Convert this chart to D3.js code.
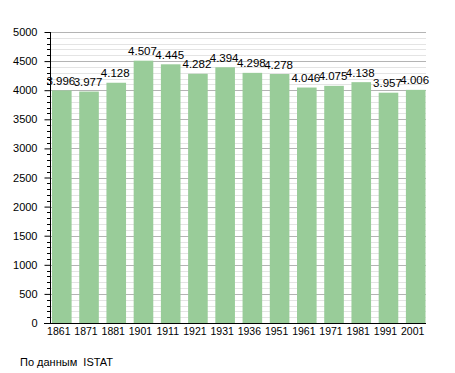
<!DOCTYPE html>
<html>
<head>
<meta charset="utf-8">
<script src="https://cdn.jsdelivr.net/npm/d3@7"></script>
<style>
  body { margin: 0; background: #fff; }
  text { font-family: "Liberation Sans", Arial, sans-serif; }
</style>
</head>
<body>
<div id="wrap"></div>
<script>
var years = ["1861","1871","1881","1901","1911","1921","1931","1936","1951","1961","1971","1981","1991","2001"];
var population = [3996,3977,4128,4507,4445,4282,4394,4298,4278,4046,4075,4138,3957,4006];
var yTicks = [0,500,1000,1500,2000,2500,3000,3500,4000,4500,5000];
var sourceText = "По данным  ISTAT";

var bar_color = "#99cc99";
var text_size = "11px";

var svg = d3.select('#wrap')
  .append('svg')
  .attr("width", 455)
  .attr("height", 373)

var x = d3.scaleBand()
  .domain(years)
  .range([52, 425.5])
  .paddingInner(0.28)
  .paddingOuter(0)

var y = d3.scaleLinear()
  .domain([0, 5000])
  .range([323, 32])

// minor grid every 100
var minor = d3.range(100, 5001, 100).filter(function (v) { return v % 500 != 0 })
svg.append("g").selectAll("line")
  .data(minor)
  .enter().append("line")
  .attr("x1", 50).attr("x2", 426)
  .attr("y1", function (d) { return Math.round(y(d)) + 0.5 })
  .attr("y2", function (d) { return Math.round(y(d)) + 0.5 })
  .attr("stroke", "#e4e4e4")
  .attr("stroke-width", 1)

// major grid
svg.append("g").selectAll("line")
  .data(yTicks.slice(1))
  .enter().append("line")
  .attr("x1", 50).attr("x2", 426)
  .attr("y1", function (d) { return Math.round(y(d)) + 0.5 })
  .attr("y2", function (d) { return Math.round(y(d)) + 0.5 })
  .attr("stroke", "#b4b4b4")
  .attr("stroke-width", 1)

// bars
svg.append("g").selectAll("rect")
  .data(population)
  .enter().append("rect")
  .attr("x", function (d, i) { return x(years[i]) })
  .attr("width", x.bandwidth())
  .attr("y", function (d) { return y(d) })
  .attr("height", function (d) { return y(0) - y(d) })
  .attr("fill", bar_color)

// value labels
var fmt = function (v) { return d3.format(",")(v).replace(",", ".") }
svg.append("g").selectAll("text")
  .data(population)
  .enter().append("text")
  .attr("x", function (d, i) { return x(years[i]) + x.bandwidth() / 2 - 1 })
  .attr("y", function (d) { return y(d) - 5.5 })
  .attr("text-anchor", "middle")
  .style("font-size", "11.5px")
  .attr("fill", "#000")
  .text(fmt)

// y axis
var yAxis = d3.axisLeft(y)
  .tickValues(yTicks)
  .tickSize(6)
  .tickPadding(7)
  .tickFormat(d3.format("d"))
var ya = svg.append("g")
  .attr("transform", "translate(50.5,0)")
  .call(yAxis)
ya.selectAll("text").style("font-size", text_size).attr("fill", "#000")
ya.selectAll("line").attr("stroke", "#000")
ya.select(".domain").attr("stroke", "#000").attr("d", "M0," + y(5000) + "V" + y(0))

// minor ticks on axis
svg.append("g").selectAll("line")
  .data(minor)
  .enter().append("line")
  .attr("x1", 47).attr("x2", 50)
  .attr("y1", function (d) { return Math.round(y(d)) + 0.5 })
  .attr("y2", function (d) { return Math.round(y(d)) + 0.5 })
  .attr("stroke", "#000")

// x axis
svg.append("line")
  .attr("x1", 44).attr("x2", 426)
  .attr("y1", y(0) + 0.5).attr("y2", y(0) + 0.5)
  .attr("stroke", "#000")

svg.append("g").selectAll("text")
  .data(years)
  .enter().append("text")
  .attr("x", function (d) { return x(d) + x.bandwidth() / 2 - 3 })
  .attr("y", 335)
  .attr("text-anchor", "middle")
  .style("font-size", "10.5px")
  .attr("fill", "#000")
  .text(function (d) { return d })

svg.append("text")
  .attr("x", 20)
  .attr("y", 366)
  .style("font-size", text_size)
  .style("white-space", "pre")
  .attr("fill", "#000")
  .text(sourceText)
</script>
</body>
</html>
